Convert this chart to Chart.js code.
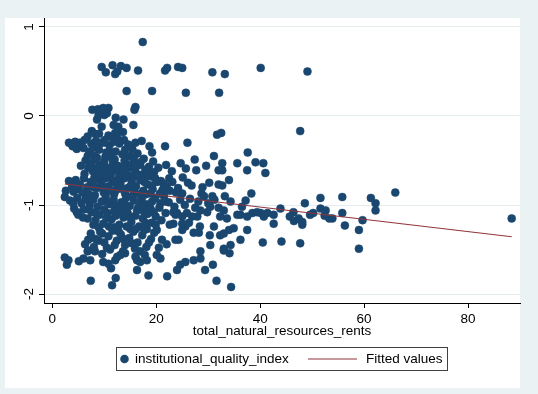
<!DOCTYPE html>
<html>
<head>
<meta charset="utf-8">
<script src="https://cdn.jsdelivr.net/npm/chart.js@4"></script>
<style>
  body { margin: 0; background: #eaf2f3; }
  canvas { display: block; }
</style>
</head>
<body>
<canvas id="scatterChart" width="538" height="394"></canvas>
<script>
const xTitle = "total_natural_resources_rents";
const seriesLabel = "institutional_quality_index";
const fitLabel = "Fitted values";
const xTicks = [0, 20, 40, 60, 80];
const yTicks = [-2, -1, 0, 1];

// total_natural_resources_rents
const rents = [
  17.4, 9.5, 10.3, 11.6, 12.1, 12.5, 13.2, 14.3, 16.5, 14.3, 19.2, 21.7, 22.1, 24.2,
  25.0, 25.7, 30.8, 33.2, 32.1, 40.1, 49.1, 47.7, 40.6, 41.0, 51.6, 55.8, 61.3, 66.0,
  7.7, 8.8, 9.8, 10.8, 8.9, 10.0, 10.5, 8.6, 16.0, 15.8, 12.2, 13.7, 15.6, 11.8,
  12.7, 12.1, 12.7, 13.6, 7.6, 6.8, 3.2, 4.4, 5.3, 16.0, 17.2, 18.7, 19.2, 19.4,
  21.7, 26.0, 24.7, 25.7, 27.4, 27.7, 31.7, 32.5, 32.7, 32.0, 32.7, 35.6, 37.6, 37.5,
  39.1, 26.1, 34.0, 32.0, 32.7, 38.3, 28.7, 30.8, 33.2, 20.9, 21.4, 17.7, 19.2, 22.6,
  24.2, 25.0, 9.5, 10.8, 8.2, 11.5,
  62.2, 62.2, 48.6, 43.9, 42.6, 42.6, 40.7, 41.4, 40.1, 46.4, 45.7, 46.5, 47.4, 48.1,
  48.1, 49.6, 50.2, 51.6, 52.6, 52.4, 53.3, 53.9, 55.8, 56.3, 59.7, 59.0, 59.0, 40.5,
  44.1, 47.7, 88.4,
  2.4, 2.8, 3.1, 5.1, 6.0, 7.3, 6.8, 7.4, 11.5, 12.2, 11.3, 16.3, 18.5, 22.1,
  31.6, 34.4, 24.0, 24.6, 25.6, 27.2, 28.5, 29.4, 30.9, 33.0, 34.1, 28.5, 20.1, 20.8,
  16.9, 18.2, 9.8, 10.8, 12.1, 13.1, 14.0, 16.3, 16.0, 30.4, 37.5, 36.2, 34.3, 33.0,
  28.4, 27.2, 28.2, 25.0, 25.6, 23.7, 24.3, 25.0, 23.3, 23.7, 30.3, 31.1, 32.3, 33.0,
  34.0, 34.9, 35.6, 36.2, 37.5, 38.5, 39.4, 33.0, 32.3, 33.6, 29.8, 30.4, 28.5, 25.9,
  26.9, 27.9, 23.3, 24.0, 25.0, 20.8, 21.7, 20.1, 21.1, 4.7, 5.0, 6.8, 6.9, 6.9, 8.2,
  6.2, 7.5, 8.4, 9.3, 10.1, 11.0, 11.8, 12.9, 13.8, 14.6, 15.4, 9.0, 10.4, 7.1,
  8.0, 12.2, 13.5, 14.9, 6.0, 5.6, 11.4, 16.4, 17.6, 3.9, 4.7,
  6.4, 7.3, 8.2, 9.1, 10.0, 10.9, 11.7, 12.6, 13.4, 14.2, 15.1, 16.0, 16.8, 17.9,
  18.6, 7.8, 9.6, 11.3, 13.0, 14.8, 6.9, 5.5, 8.7, 12.1, 15.6, 17.2, 19.6, 20.4,
  21.9, 23.0, 22.5, 19.0,
  3.2, 3.8, 4.5, 5.3, 6.1, 6.7, 7.4, 8.1, 8.6, 9.4, 10.2, 10.8, 11.5, 12.3,
  13.1, 13.9, 14.5, 15.3, 16.1, 16.9, 17.5, 18.3, 19.3, 20.2, 21.2, 22.0, 23.1, 23.8,
  2.6, 4.1, 5.8, 7.0, 9.9, 11.9, 14.0, 15.8, 18.0, 12.8, 9.0,
  2.4, 3.4, 4.8, 5.6, 6.4, 7.2, 7.9, 8.7, 9.5, 10.3, 11.1, 11.8, 12.6, 13.3,
  14.2, 14.9, 15.7, 16.5, 17.2, 18.1, 18.9, 19.8, 20.6, 21.5, 22.4, 23.5, 24.6, 25.5,
  26.5, 27.5, 28.1, 29.2, 30.0, 31.2, 32.0, 34.3, 36.5, 37.2, 6.0, 10.0, 13.8, 17.6,
  4.2, 5.9, 7.6, 8.3, 9.1, 9.8, 10.6, 11.4, 12.2, 12.9, 13.7, 14.5, 15.2, 16.0,
  16.7, 17.4, 18.3, 19.1, 19.9, 21.0, 21.8, 22.6, 26.3, 8.9, 11.9, 15.0, 18.2,
  7.4, 8.3, 9.2, 10.0, 10.8, 11.6, 12.4, 13.2, 14.0, 14.8, 15.6, 16.4, 17.3, 18.1,
  19.0, 19.6, 8.0, 11.1, 13.6, 15.9, 17.8, 6.3, 9.6, 12.5, 22.0, 20.5,
  26.8, 28.9, 30.2, 25.1, 29.6, 31.1,
  6.8, 8.6, 10.2, 12.0, 13.9, 15.7, 17.0, 7.7, 9.9, 11.9, 13.8, 15.9, 18.2,
  6.2, 8.3, 10.5, 12.0, 14.0, 15.7, 17.8, 19.8, 5.0, 7.9, 9.8, 11.2, 13.5, 15.0,
  16.8, 18.9, 20.7, 4.0, 6.9, 8.2, 10.6, 12.0, 14.0, 15.3, 17.0, 19.2,
  7.0, 8.6, 10.4, 11.9, 13.2, 14.8, 16.3, 17.9, 19.5, 7.9, 9.6, 10.9, 12.8, 14.3,
  16.1, 17.7, 19.9, 8.9, 10.5, 12.0, 13.7, 15.3, 16.9, 18.6,
  9.0, 10.0, 12.5, 14.0, 8.0, 11.0
];

// institutional_quality_index
const quality = [
  0.83, 0.55, 0.49, 0.57, 0.47, 0.50, 0.56, 0.54, 0.51, 0.28, 0.28, 0.51, 0.54, 0.55,
  0.54, 0.26, 0.49, 0.47, 0.26, 0.54, 0.50, -0.17, -0.53, -0.64, -0.92, -0.91, -0.92, -0.86,
  0.07, 0.075, 0.09, 0.09, 0.01, 0.01, 0.03, -0.04, 0.10, 0.07, -0.02, -0.04, -0.10, -0.10,
  -0.12, -0.19, -0.18, -0.18, -0.17, -0.23, -0.30, -0.29, -0.30, -0.30, -0.28, -0.34, -0.41, -0.51,
  -0.34, -0.30, -0.53, -0.59, -0.49, -0.61, -0.21, -0.19, -0.53, -0.61, -0.61, -0.53, -0.41, -0.61,
  -0.52, -0.75, -0.72, -0.77, -0.78, -0.87, -0.87, -0.90, -0.90, -0.73, -0.76, -0.74, -0.78, -0.84,
  -0.81, -0.87, -0.12, -0.22, -0.20, -0.24,
  -0.98, -1.06, -0.98, -1.04, -1.11, -1.21, -1.13, -1.09, -1.09, -1.08, -1.13, -1.18, -1.15, -1.19,
  -1.22, -1.11, -1.09, -1.04, -1.06, -1.12, -1.15, -1.15, -1.09, -1.23, -1.17, -1.28, -1.49, -1.42,
  -1.41, -1.43, -1.15,
  -1.59, -1.67, -1.62, -1.63, -1.60, -1.62, -1.52, -1.85, -1.90, -1.82, -1.71, -1.73, -1.79, -1.80,
  -1.85, -1.92, -1.73, -1.67, -1.64, -1.62, -1.60, -1.73, -1.67, -1.51, -1.54, -1.52, -1.56, -1.60,
  -1.64, -1.62, -1.64, -1.66, -1.62, -1.56, -1.54, -1.62, -1.58, -1.45, -1.28, -1.39, -1.45, -1.49,
  -1.24, -1.31, -1.31, -1.28, -1.24, -1.39, -1.39, -1.21, -1.21, -1.11, -1.34, -1.24, -1.34, -1.32,
  -1.28, -1.26, -1.11, -1.11, -1.13, -1.09, -1.08, -1.06, -1.13, -1.15, -1.08, -1.02, -1.06, -1.09,
  -1.13, -1.13, -1.08, -1.09, -1.13, -0.98, -0.96, -1.28, -1.39, -1.08, -1.11, -1.15, -1.39, -1.51, -1.52,
  -0.27, -0.31, -0.28, -0.30, -0.27, -0.33, -0.29, -0.31, -0.27, -0.32, -0.37, -0.38, -0.41, -0.40,
  -0.44, -0.40, -0.43, -0.45, -0.36, -0.33, -0.47, -0.42, -0.48, -0.34, -0.37,
  -0.50, -0.53, -0.49, -0.55, -0.51, -0.58, -0.52, -0.56, -0.60, -0.54, -0.58, -0.62, -0.55, -0.60,
  -0.57, -0.62, -0.64, -0.65, -0.66, -0.67, -0.58, -0.56, -0.60, -0.61, -0.51, -0.66, -0.63, -0.58,
  -0.55, -0.62, -0.70, -0.68,
  -0.73, -0.79, -0.72, -0.77, -0.70, -0.80, -0.74, -0.69, -0.81, -0.75, -0.70, -0.79, -0.72, -0.83,
  -0.76, -0.70, -0.81, -0.74, -0.79, -0.72, -0.84, -0.77, -0.82, -0.74, -0.83, -0.79, -0.74, -0.86,
  -0.84, -0.85, -0.86, -0.88, -0.86, -0.88, -0.87, -0.86, -0.88, -0.69, -0.67,
  -0.91, -0.95, -0.92, -0.98, -0.93, -1.00, -0.94, -1.02, -0.96, -0.91, -0.99, -0.94, -1.03, -0.97,
  -0.92, -1.01, -0.95, -1.03, -0.93, -0.99, -1.04, -0.92, -1.03, -0.90, -0.97, -1.02, -0.94, -1.00,
  -0.93, -1.03, -0.96, -0.90, -0.98, -0.94, -1.03, -0.96, -1.02, -0.95, -1.05, -1.05, -1.06, -1.07,
  -1.04, -1.14, -1.08, -1.17, -1.11, -1.21, -1.09, -1.16, -1.12, -1.22, -1.14, -1.09, -1.19, -1.12,
  -1.24, -1.15, -1.10, -1.20, -1.13, -1.17, -1.09, -1.22, -1.20, -1.25, -1.25, -1.27, -1.27,
  -1.32, -1.38, -1.30, -1.42, -1.35, -1.29, -1.40, -1.33, -1.45, -1.37, -1.30, -1.42, -1.34, -1.47,
  -1.38, -1.31, -1.47, -1.50, -1.52, -1.49, -1.56, -1.44, -1.55, -1.58, -1.44, -1.48,
  -0.78, -0.80, -0.75, -0.69, -0.56, -0.45,
  -0.45, -0.47, -0.46, -0.49, -0.50, -0.47, -0.52, -0.57, -0.59, -0.57, -0.57, -0.56, -0.64,
  -0.65, -0.72, -0.66, -0.75, -0.63, -0.68, -0.70, -0.70, -0.82, -0.80, -0.80, -0.84, -0.82, -0.79,
  -0.88, -0.87, -0.87, -0.98, -0.94, -0.89, -0.97, -1.00, -1.00, -0.90, -0.99, -0.96,
  -1.05, -1.10, -1.15, -1.07, -1.09, -1.13, -1.06, -1.20, -1.08, -1.22, -1.32, -1.24, -1.30, -1.24,
  -1.27, -1.28, -1.22, -1.40, -1.48, -1.45, -1.38, -1.43, -1.52, -1.42,
  -0.20, -0.30, -0.25, -0.38, -0.35, -0.40
];

// fitted line end points
const fitRents = [2.4, 88.4];
const fitValues = [-0.764, -1.356];

const navy = "#1a476f";
const maroon = "#90353b";
const fontFamily = "'Liberation Sans', Arial, sans-serif";
const fontSize = 13.5;

const bgPlugin = {
  id: "bg",
  beforeDraw(chart) {
    const c = chart.ctx;
    c.save();
    c.fillStyle = "#eaf2f3";
    c.fillRect(0, 0, chart.width, chart.height);
    c.fillStyle = "#ffffff";
    c.fillRect(5, 18, 515, 370);
    c.restore();
  },
  afterDraw(chart) {
    const c = chart.ctx;
    const y = chart.scales.y;
    c.save();
    // rotated y tick labels
    c.fillStyle = "#000";
    c.font = fontSize + "px " + fontFamily;
    c.textAlign = "center";
    c.textBaseline = "alphabetic";
    yTicks.forEach(v => {
      c.save();
      c.translate(33, y.getPixelForValue(v));
      c.rotate(-Math.PI / 2);
      c.fillText(String(v), 0, 0);
      c.restore();
    });
    // legend
    c.strokeStyle = "#404040";
    c.lineWidth = 1;
    c.strokeRect(116.5, 347.5, 331, 23);
    c.fillStyle = navy;
    c.beginPath();
    c.arc(124.5, 359, 4.3, 0, Math.PI * 2);
    c.fill();
    c.strokeStyle = maroon;
    c.lineWidth = 1.2;
    c.beginPath();
    c.moveTo(308, 359);
    c.lineTo(357, 359);
    c.stroke();
    c.fillStyle = "#000";
    c.textAlign = "left";
    c.textBaseline = "middle";
    c.fillText(seriesLabel, 135, 359);
    c.fillText(fitLabel, 366, 359);
    c.restore();
  }
};

const ctx = document.getElementById("scatterChart").getContext("2d");

const config = {
  type: "scatter",
  data: {
    datasets: [
      {
        label: seriesLabel,
        data: rents.map((r, i) => ({ x: r, y: quality[i] })),
        backgroundColor: navy,
        borderColor: navy,
        borderWidth: 0.5,
        pointRadius: 4,
        order: 1,
      },
      {
        label: fitLabel,
        type: "line",
        data: fitRents.map((r, i) => ({ x: r, y: fitValues[i] })),
        borderColor: maroon,
        borderWidth: 1.2,
        pointRadius: 0,
        fill: false,
        order: 0,
      },
    ],
  },
  options: {
    responsive: false,
    animation: false,
    layout: { padding: { left: 0, top: 18, right: 18, bottom: 54 } },
    plugins: {
      legend: { display: false },
      tooltip: { enabled: false },
    },
    scales: {
      x: {
        type: "linear",
        min: -1.6,
        max: 90,
        afterBuildTicks: s => { s.ticks = xTicks.map(v => ({ value: v })); },
        afterFit: s => { s.height = 37; },
        grid: { drawOnChartArea: false, tickLength: 5, tickColor: "#000" },
        border: { color: "#000" },
        ticks: { color: "#000", font: { family: fontFamily, size: fontSize }, padding: 3, maxRotation: 0 },
        title: {
          display: true,
          text: xTitle,
          color: "#000",
          font: { family: fontFamily, size: fontSize },
          padding: { top: 0, bottom: 1 },
        },
      },
      y: {
        min: -2.1,
        max: 1.1,
        afterBuildTicks: s => { s.ticks = yTicks.map(v => ({ value: v })); },
        afterFit: s => { s.width = 44; },
        grid: { color: "#e4edef", tickLength: 5, tickColor: "#000" },
        border: { color: "#000" },
        ticks: { display: false },
      },
    },
  },
  plugins: [bgPlugin],
};

const myChart = new Chart(ctx, config);
</script>
</body>
</html>
